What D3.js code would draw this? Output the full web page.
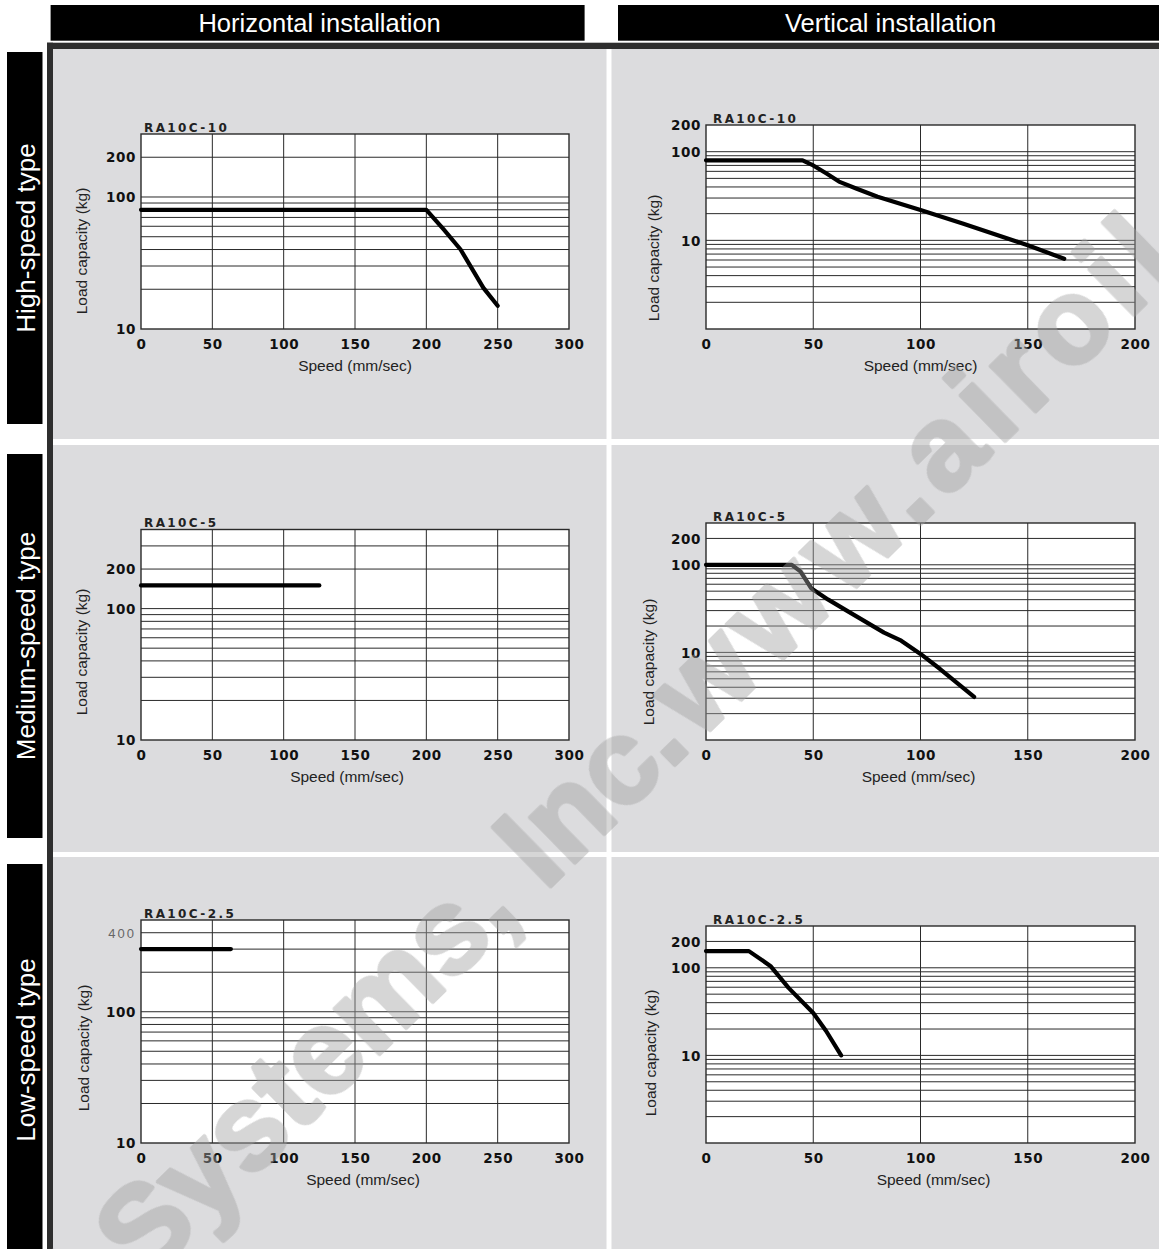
<!DOCTYPE html>
<html><head><meta charset="utf-8">
<script src="https://cdn.jsdelivr.net/npm/d3@7"></script>
<style>
html,body{margin:0;padding:0;background:#fff;}
svg{display:block;}
</style></head><body>
<svg id="c" width="1159" height="1249"></svg>
<script>
// ---------------- DATA ----------------
const columnHeaders = ["Horizontal installation", "Vertical installation"];
const rowLabels = ["High-speed type", "Medium-speed type", "Low-speed type"];
const modelNames = ["RA10C-10", "RA10C-5", "RA10C-2.5"];
const xAxisTitle = "Speed (mm/sec)";
const yAxisTitle = "Load capacity (kg)";
const watermarkParts = ["Airoil Systems, Inc.", "www.airoil.com"];

const xTicksHoriz = [0, 50, 100, 150, 200, 250, 300];
const xTicksVert = [0, 50, 100, 150, 200];

// High-speed type
const hsHorizSpeed = [0, 200, 212, 224, 240, 250];
const hsHorizLoad  = [80, 80, 57, 40, 20.5, 15];
const hsHorizYDomain = [10, 300];
const hsHorizYLabels = [200, 100, 10];

const hsVertSpeed = [0, 45, 50, 56, 62, 70, 80, 100, 120, 150, 167];
const hsVertLoad  = [80, 80, 70, 57, 46, 38.5, 31, 22, 15.4, 8.8, 6.2];
const hsVertYDomain = [1, 200];
const hsVertYLabels = [200, 100, 10];

// Medium-speed type
const msHorizSpeed = [0, 125];
const msHorizLoad  = [150, 150];
const msHorizYDomain = [10, 400];
const msHorizYLabels = [200, 100, 10];

const msVertSpeed = [0, 40, 44, 49, 57, 66, 83, 91, 100, 109, 125];
const msVertLoad  = [100, 100, 84, 54, 40, 29.6, 16.8, 13.6, 9.6, 6.5, 3.1];
const msVertYDomain = [1, 300];
const msVertYLabels = [200, 100, 10];

// Low-speed type
const lsHorizSpeed = [0, 63];
const lsHorizLoad  = [300, 300];
const lsHorizYDomain = [10, 500];
const lsHorizYLabels = [400, 100, 10];

const lsVertSpeed = [0, 20, 30, 38.5, 50, 56, 63];
const lsVertLoad  = [155, 155, 105, 59, 30.5, 19, 10];
const lsVertYDomain = [1, 300];
const lsVertYLabels = [200, 100, 10];

// ---------------- LAYOUT ----------------
const W = 1159, H = 1249;
const svg = d3.select("#c");
svg.append("rect").attr("width", W).attr("height", H).attr("fill", "#fff");

const panelCols = [[53, 606.5], [611.5, 1159]];
const panelRows = [[49, 439], [445, 852], [857, 1249]];
const gray = "#dcdcde";

panelRows.forEach(r => panelCols.forEach(c => {
  svg.append("rect").attr("x", c[0]).attr("y", r[0])
    .attr("width", c[1] - c[0]).attr("height", r[1] - r[0]).attr("fill", gray);
}));

// frame borders
svg.append("rect").attr("x", 47).attr("y", 42.7).attr("width", W - 47).attr("height", 6.3).attr("fill", "#2e2e2e");
svg.append("rect").attr("x", 47).attr("y", 42.7).attr("width", 6).attr("height", H - 42.7).attr("fill", "#2e2e2e");

// column headers
const headerX = [[50.6, 584.6], [618, 1159]];
columnHeaders.forEach((t, i) => {
  svg.append("rect").attr("x", headerX[i][0]).attr("y", 5)
    .attr("width", headerX[i][1] - headerX[i][0]).attr("height", 35.7).attr("fill", "#000");
  svg.append("text").attr("x", (headerX[i][0] + headerX[i][1]) / 2 + 2).attr("y", 23)
    .attr("dy", "0.35em").attr("text-anchor", "middle")
    .attr("font-family", "'Liberation Sans', Arial, sans-serif").attr("font-size", 25.5)
    .attr("fill", "#fff").text(t);
});

// row labels
const rowBars = [[52, 424], [454, 838], [864, 1249]];
const rowTextY = [238, 646, 1050];
rowLabels.forEach((t, i) => {
  svg.append("rect").attr("x", 7).attr("y", rowBars[i][0])
    .attr("width", 35.5).attr("height", rowBars[i][1] - rowBars[i][0]).attr("fill", "#000");
  svg.append("text").attr("transform", `translate(25.5,${rowTextY[i]}) rotate(-90)`)
    .attr("dy", "0.35em").attr("text-anchor", "middle")
    .attr("font-family", "'Liberation Sans', Arial, sans-serif").attr("font-size", 26)
    .attr("fill", "#fff").text(t);
});

// ---------------- CHARTS ----------------
const boxX = [[141, 569], [706, 1135]];
const boxY = [[[134, 329], [125, 329]], [[529.5, 740], [523, 740]], [[920, 1143], [926, 1143]]];
const speedDx = [[0, 0], [-8, -2], [8, 13]];
const loadPos = [[[82, 251], [654, 258]], [[82, 652], [649, 662]], [[84, 1048], [651, 1053]]];

const charts = [
  {row: 0, col: 0, title: modelNames[0], sp: hsHorizSpeed, ld: hsHorizLoad, yd: hsHorizYDomain, yl: hsHorizYLabels, xt: xTicksHoriz},
  {row: 0, col: 1, title: modelNames[0], sp: hsVertSpeed, ld: hsVertLoad, yd: hsVertYDomain, yl: hsVertYLabels, xt: xTicksVert},
  {row: 1, col: 0, title: modelNames[1], sp: msHorizSpeed, ld: msHorizLoad, yd: msHorizYDomain, yl: msHorizYLabels, xt: xTicksHoriz},
  {row: 1, col: 1, title: modelNames[1], sp: msVertSpeed, ld: msVertLoad, yd: msVertYDomain, yl: msVertYLabels, xt: xTicksVert},
  {row: 2, col: 0, title: modelNames[2], sp: lsHorizSpeed, ld: lsHorizLoad, yd: lsHorizYDomain, yl: lsHorizYLabels, xt: xTicksHoriz},
  {row: 2, col: 1, title: modelNames[2], sp: lsVertSpeed, ld: lsVertLoad, yd: lsVertYDomain, yl: lsVertYLabels, xt: xTicksVert}
];

const gridColor = "#2a2a2a";
charts.forEach(ch => {
  const [x0, x1] = boxX[ch.col];
  const [y0, y1] = boxY[ch.row][ch.col];
  const xMax = ch.xt[ch.xt.length - 1];
  const x = d3.scaleLinear().domain([0, xMax]).range([x0, x1]);
  const y = d3.scaleLog().domain(ch.yd).range([y1, y0]);
  const g = svg.append("g");

  g.append("rect").attr("x", x0).attr("y", y0).attr("width", x1 - x0).attr("height", y1 - y0).attr("fill", "#fff");

  const yg = y.ticks().filter(v => v > ch.yd[0] && v < ch.yd[1]);
  g.selectAll(".hg").data(yg).enter().append("line")
    .attr("x1", x0).attr("x2", x1).attr("y1", d => y(d)).attr("y2", d => y(d))
    .attr("stroke", gridColor).attr("stroke-width", 1);
  g.selectAll(".vg").data(ch.xt.filter(v => v > 0 && v < xMax)).enter().append("line")
    .attr("y1", y0).attr("y2", y1).attr("x1", d => x(d)).attr("x2", d => x(d))
    .attr("stroke", gridColor).attr("stroke-width", 1);
  g.append("rect").attr("x", x0).attr("y", y0).attr("width", x1 - x0).attr("height", y1 - y0)
    .attr("fill", "none").attr("stroke", "#2a2a2a").attr("stroke-width", 1.4);

  // title
  g.append("text").attr("x", x0 + (ch.col ? 7 : 3)).attr("y", y0 - 2.5)
    .attr("font-family", "'DejaVu Sans', sans-serif").attr("font-weight", "bold")
    .attr("font-size", 12).attr("letter-spacing", 2.4).attr("fill", "#222").text(ch.title);

  // data line
  const pts = ch.sp.map((s, i) => [s, ch.ld[i]]);
  g.append("path").datum(pts)
    .attr("d", d3.line().x(d => x(d[0])).y(d => y(d[1])))
    .attr("fill", "none").attr("stroke", "#000").attr("stroke-width", 4.2)
    .attr("stroke-linejoin", "round").attr("stroke-linecap", "round");

  // x axis labels
  const xa = g.append("g").attr("transform", `translate(0,${y1})`)
    .call(d3.axisBottom(x).tickValues(ch.xt).tickSize(0).tickFormat(d3.format("d")));
  xa.select(".domain").remove();
  xa.selectAll("text").attr("y", 15).attr("dy", "0.35em")
    .attr("font-family", "'DejaVu Sans', sans-serif").attr("font-weight", "bold")
    .attr("font-size", 13.5).attr("letter-spacing", 0.6).attr("fill", "#111");

  // y axis labels
  const ya = g.append("g").attr("transform", `translate(${x0},0)`)
    .call(d3.axisLeft(y).tickValues(ch.yl).tickSize(0).tickFormat(d3.format("d")));
  ya.select(".domain").remove();
  ya.selectAll("text").attr("x", -5).attr("dy", "0.35em")
    .attr("font-family", "'DejaVu Sans', sans-serif").attr("font-weight", "bold")
    .attr("font-size", 13.5).attr("letter-spacing", 0.6).attr("fill", "#111");
  if (ch.yl[0] === 400) {
    ya.selectAll("text").filter(d => d === 400)
      .attr("font-family", "'Liberation Sans', Arial, sans-serif").attr("font-weight", "normal")
      .attr("letter-spacing", 2).attr("fill", "#666").attr("font-size", 13);
  }

  // axis titles
  g.append("text").attr("x", (x0 + x1) / 2 + speedDx[ch.row][ch.col]).attr("y", y1 + 37)
    .attr("dy", "0.35em").attr("text-anchor", "middle")
    .attr("font-family", "'Liberation Sans', Arial, sans-serif").attr("font-size", 15.5)
    .attr("fill", "#222").text(xAxisTitle);
  const lp = loadPos[ch.row][ch.col];
  g.append("text").attr("transform", `translate(${lp[0]},${lp[1]}) rotate(-90)`)
    .attr("dy", "0.35em").attr("text-anchor", "middle")
    .attr("font-family", "'Liberation Sans', Arial, sans-serif").attr("font-size", 15.5)
    .attr("fill", "#222").text(yAxisTitle);
});

// ---------------- WATERMARK ----------------
const wmFont = 120, ang = -44.4, rad = ang * Math.PI / 180;
const u = [Math.cos(rad), Math.sin(rad)];
const dn = [-Math.sin(rad), Math.cos(rad)];
const dotTargets = [[675, 753], [921, 512]];
const wmSpacing = [0, 9];
const wm = svg.append("g").attr("pointer-events", "none").attr("opacity", 0.44);
watermarkParts.forEach((t, i) => {
  const txt = wm.append("text")
    .attr("font-family", "'Liberation Sans', Arial, sans-serif").attr("font-weight", "bold")
    .attr("font-size", wmFont).attr("fill", "#a2a2a2").attr("letter-spacing", wmSpacing[i])
    .attr("stroke", "#a2a2a2").attr("stroke-width", 4).attr("stroke-linejoin", "round")
    .attr("text-anchor", "start").text(t);
  const node = txt.node();
  const dotIdx = t.indexOf(".");
  const lx = node.getStartPositionOfChar(dotIdx).x + (node.getEndPositionOfChar(dotIdx).x - node.getStartPositionOfChar(dotIdx).x - wmSpacing[i]) / 2;
  const ly = -0.07 * wmFont;
  const tg = dotTargets[i];
  const tx = tg[0] - (lx * u[0] + ly * dn[0]);
  const ty = tg[1] - (lx * u[1] + ly * dn[1]);
  txt.attr("transform", `translate(${tx},${ty}) rotate(${ang})`);
});
</script>
</body></html>
